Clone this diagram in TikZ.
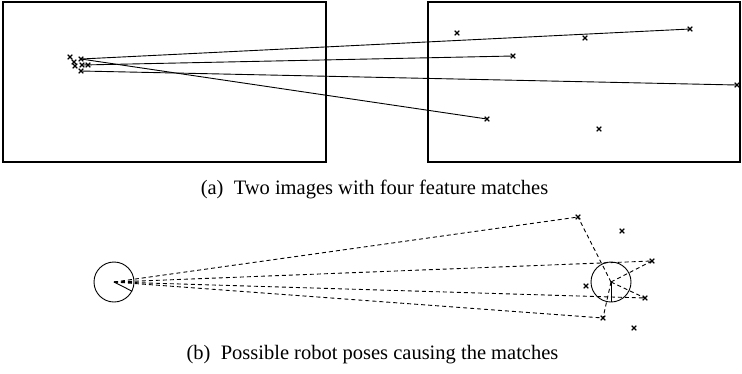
\documentclass[tikz,border=0pt]{standalone}
\usepackage{fontspec}
\setmainfont{Liberation Serif}
\usetikzlibrary{shapes.misc}
\tikzset{feat/.style={cross out,draw,minimum size=3.5pt,inner sep=0pt,line width=1.1pt},
         robot/.style={circle,draw,minimum size=40pt,inner sep=0pt},
         ray/.style={dash pattern=on 4pt off 3pt},
         caption/.style={font=\fontsize{20.5}{24}\selectfont}}
\begin{document}
\begin{tikzpicture}[x=1pt,y=-1pt,line width=0.9pt]
\useasboundingbox (0,0) rectangle (742,373);
% the two images
\draw[line width=1.1pt] (3,2) rectangle (326,162);
\draw[line width=1.1pt] (428,2) rectangle (740,162);
% features, left image
\node[feat] (l1) at (70,57) {};
\node[feat] (l2) at (81,59) {};
\node[feat] (l3) at (74,62) {};
\node[feat] (l4) at (75,66) {};
\node[feat] (l5) at (82,65) {};
\node[feat] (l6) at (88,65) {};
\node[feat] (l7) at (81,71) {};
% features, right image
\node[feat] (r1) at (457,33) {};
\node[feat] (r2) at (585,38) {};
\node[feat] (r3) at (690,29) {};
\node[feat] (r4) at (513,56) {};
\node[feat] (r5) at (737,85) {};
\node[feat] (r6) at (487,119) {};
\node[feat] (r7) at (599,129) {};
% matches
\draw (l2.center) -- (r3.center);
\draw (l2.center) -- (r6.center);
\draw (l5.center) -- (r4.center);
\draw (l7.center) -- (r5.center);
\node[caption] (capa) at (374.5,189) {(a)\enspace Two images with four feature matches};
% poses
\node[robot] (poseA) at (114,282) {};
\node[robot] (poseB) at (611,282) {};
\draw (poseA.center) -- (poseA.-27);
\draw (poseB.center) -- (poseB.-90);
% landmarks
\node[feat] (m1) at (578,217) {};
\node[feat] (m2) at (652,261) {};
\node[feat] (m3) at (645,298) {};
\node[feat] (m4) at (603,318) {};
\node[feat] (o1) at (622,231) {};
\node[feat] (o2) at (586,286) {};
\node[feat] (o3) at (634,328) {};
\foreach \m in {m1,m2,m3,m4}{
  \draw[ray] (poseA.center) -- (\m.center);
  \draw[ray] (poseB.center) -- (\m.center);
}
\node[caption] (capb) at (372.5,355) {(b)\enspace Possible robot poses causing the matches};
\end{tikzpicture}
\end{document}
